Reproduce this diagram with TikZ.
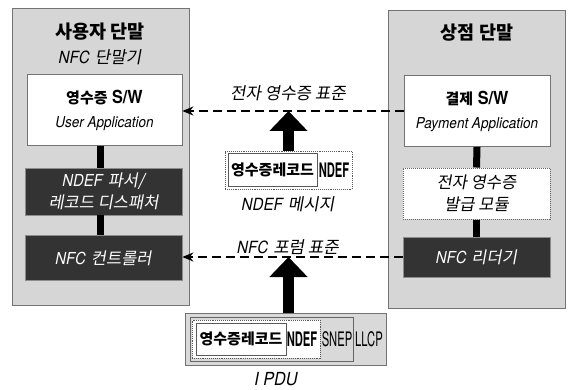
\documentclass[tikz,border=0pt]{standalone}
\usepackage{fontspec}
\usepackage{tikz}
\usetikzlibrary{arrows.meta}
\usetikzlibrary{calc}
\usetikzlibrary{positioning}

\newfontfamily\kr{Noto Sans CJK KR}
\newfontfamily\krit[FakeSlant=0.18]{Noto Sans CJK KR}
\newfontfamily\lat[FakeStretch=0.9]{TeX Gyre Heros}
\newfontfamily\latc[FakeStretch=0.56]{TeX Gyre Heros}

\newcommand\ko[1]{{\kr\bfseries #1}}
\newcommand\koit[1]{{\krit #1}}
\newcommand\la[1]{{\fontsize{18}{20}\selectfont\lat\bfseries #1}}
\newcommand\lait[1]{{\lat\itshape #1}}

\tikzset{
  panel/.style={draw=black!55, fill=black!16, line width=0.8pt},
  title/.style={inner sep=0pt, font=\fontsize{18.5}{20}\selectfont\kr\bfseries},
  sublabel/.style={inner sep=0pt, font=\fontsize{16.8}{18}\selectfont},
  whitebox/.style={draw=black!55, fill=white, line width=0.8pt, align=center,
    font=\fontsize{15}{24}\selectfont},
  darkbox/.style={draw=black!45, fill=black!80, text=white, line width=0.8pt,
    align=center, font=\fontsize{16.5}{22}\selectfont},
  dashbox/.style={draw=black!60, densely dotted, fill=white, line width=1pt,
    align=center, font=\fontsize{16.5}{22}\selectfont},
  dotbox/.style={draw=black!65, densely dotted, fill=white, line width=0.9pt},
  recbox/.style={draw=black!65, fill=white, line width=0.8pt, inner sep=0pt,
    font=\fontsize{15}{16}\selectfont\kr\bfseries},
  pdubox/.style={draw=black!55, fill=black!15, line width=0.8pt},
  snepbox/.style={draw=black!60, fill=black!15, line width=0.8pt},
  ndeftag/.style={inner sep=0pt, font=\fontsize{20}{22}\selectfont\latc\bfseries},
  proto/.style={inner sep=0pt, font=\fontsize{20}{22}\selectfont\latc},
  link/.style={line width=7pt},
  stdarrow/.style={line width=2.2pt, dash pattern=on 9pt off 5pt,
    -{Stealth[length=11pt,width=9pt]}},
  bigarrow/.style={line width=11pt, -{Triangle[length=20pt,width=37pt]}},
}

\begin{document}
\begin{tikzpicture}[x=1pt, y=-1pt]
  \useasboundingbox (0,0) rectangle (569,390);

  % terminals
  \node [panel, minimum width=177pt, minimum height=297pt] (user) at (100.5,156.5) {};
  \node [panel, minimum width=177pt, minimum height=298pt] (shop) at (476.5,159) {};

  \node [title] (usertitle) at (100,32) {사용자 단말};
  \node [sublabel] (usersub) at (100,57) {\lait{NFC} \koit{단말기}};
  \node [title] (shoptitle) at (477,33) {상점 단말};

  % user side
  \node [whitebox, minimum width=155pt, minimum height=71pt] (rcpt) at (104.5,110)
    {\ko{영수증} \la{S/W}\\\lait{User Application}};
  \node [darkbox, minimum width=157pt, minimum height=47pt] (parser) at (103.5,191.5)
    {\lait{NDEF} \koit{파서/}\\\koit{레코드 디스패처}};
  \node [darkbox, minimum width=157pt, minimum height=45pt] (ctrl) at (103.5,258)
    {\lait{NFC} \koit{컨트롤러}};

  \draw [link] (rcpt.south -| user.center) -- (parser.north -| user.center);
  \draw [link] (parser.south -| user.center) -- (ctrl.north -| user.center);

  % shop side
  \node [whitebox, minimum width=146pt, minimum height=71pt] (pay) at (477,111)
    {\ko{결제} \la{S/W}\\\lait{Payment Application}};
  \node [dashbox, minimum width=147pt, minimum height=51pt] (issue) at (476.5,193.5)
    {\koit{전자 영수증}\\\koit{발급 모듈}};
  \node [darkbox, minimum width=147pt, minimum height=40pt] (reader) at (476.5,257)
    {\lait{NFC} \koit{리더기}};

  \draw [link] (pay.south) -- (issue.north);
  \draw [link] (issue.south) -- (reader.north);

  % receipt standard
  \node [sublabel] (std1) at (288,93) {\koit{전자 영수증 표준}};
  \draw [stdarrow] (pay.west) -- (pay.west -| rcpt.east);

  \node [dotbox, minimum width=127pt, minimum height=38pt] (msg) at (288.5,170) {};
  \node [recbox, minimum width=89pt, minimum height=33pt] (rec) at (272.5,170) {영수증레코드};
  \node [ndeftag] (ndef) at (334,170) {NDEF};
  \node [sublabel] (msglabel) at (288,204) {\lait{NDEF} \koit{메시지}};
  \draw [bigarrow] (msg.north) -- (msg.north |- pay.west);

  % forum standard
  \node [sublabel] (std2) at (288,247) {\lait{NFC} \koit{포럼 표준}};
  \draw [stdarrow] (reader.west) -- (reader.west -| ctrl.east);

  \node [pdubox, minimum width=201pt, minimum height=52pt] (pdu) at (285.5,339) {};
  \node [snepbox, minimum width=163pt, minimum height=44pt] (snep) at (271.5,339) {};
  \node [dotbox, minimum width=128pt, minimum height=38pt] (ndefpdu) at (256,339) {};
  \node [recbox, minimum width=90pt, minimum height=32pt] (rec2) at (241,339) {영수증레코드};
  \node [ndeftag] (ndef2) at (302,339) {NDEF};
  \node [proto] (sneptag) at (337,339) {SNEP};
  \node [proto] (llcptag) at (369,339) {LLCP};
  \node [sublabel, font=\fontsize{18}{19}\selectfont] (pdulabel) at (276,379) {\lait{I PDU}};
  \draw [bigarrow] (pdu.north -| msg.north) -- (reader.west -| msg.north);

\end{tikzpicture}
\end{document}
